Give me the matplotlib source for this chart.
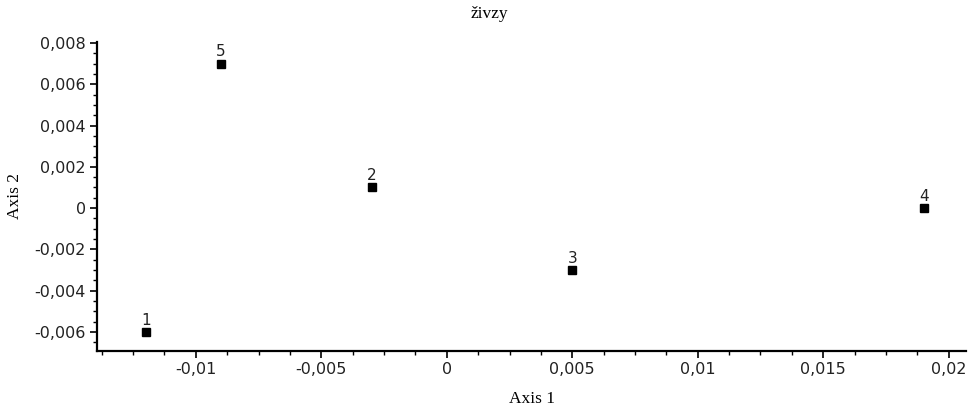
import matplotlib
matplotlib.use("Agg")
import matplotlib.pyplot as plt
from matplotlib.ticker import MultipleLocator, FuncFormatter

# ordination scores
labels = ["1", "2", "3", "4", "5"]
axis1 = [-0.012, -0.003, 0.005, 0.019, -0.009]
axis2 = [-0.006, 0.001, -0.003, 0.0, 0.007]


def comma_fmt(v, pos):
    v = round(v, 6)
    if v == 0:
        return "0"
    return ("%g" % v).replace(".", ",")


fig = plt.figure(figsize=(9.68, 4.07), dpi=100)
ax = fig.add_axes([0.1002, 0.1376, 0.898, 0.7594])

ax.plot(axis1, axis2, linestyle="none", marker="s", markersize=5.5,
        color="black")
for lab, x, y in zip(labels, axis1, axis2):
    ax.annotate(lab, (x, y), xytext=(0, 3), textcoords="offset points",
                ha="center", va="bottom", fontsize=11,
                family="DejaVu Sans", color="#222222")

ax.set_xlim(-0.01394, 0.0207)
ax.set_ylim(-0.00692, 0.00805)

ax.xaxis.set_major_locator(MultipleLocator(0.005))
ax.xaxis.set_minor_locator(MultipleLocator(0.00125))
ax.yaxis.set_major_locator(MultipleLocator(0.002))
ax.yaxis.set_minor_locator(MultipleLocator(0.0005))
ax.xaxis.set_major_formatter(FuncFormatter(comma_fmt))
ax.yaxis.set_major_formatter(FuncFormatter(comma_fmt))

for s in ["top", "right"]:
    ax.spines[s].set_visible(False)
for s in ["left", "bottom"]:
    ax.spines[s].set_linewidth(1.6)

ax.tick_params(which="major", direction="out", length=5, width=1.2,
               labelsize=11.5, colors="black", pad=3)
ax.tick_params(which="minor", direction="out", length=3, width=1.0)
for t in ax.get_xticklabels() + ax.get_yticklabels():
    t.set_family("DejaVu Sans")
    t.set_color("#222222")

# title sits at the centre of the whole figure, not the axes
fig.text(0.506, 0.966, "živzy", family="Liberation Serif", fontsize=12.5,
         ha="center", va="center")
ax.set_xlabel("Axis 1", family="Liberation Serif", fontsize=12.5, labelpad=10)
ax.set_ylabel("Axis 2", family="Liberation Serif", fontsize=12.5, labelpad=8)

fig.savefig("out.png", dpi=100)
